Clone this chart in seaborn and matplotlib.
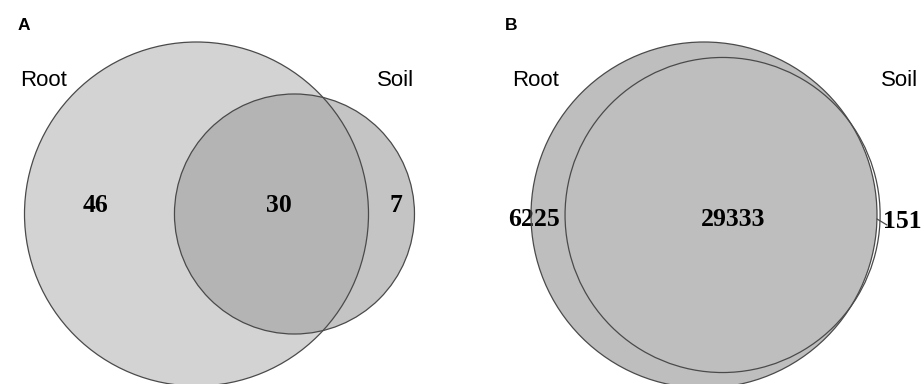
import numpy as np
import matplotlib
matplotlib.use("Agg")
import matplotlib.pyplot as plt
from matplotlib.patches import Circle
import seaborn as sns

# ---- data ----
panels = ["A", "B"]
set_names = ["Root", "Soil"]
root_only = [46, 6225]
shared = [30, 29333]
soil_only = [7, 151]

sns.set_theme(style="white")
plt.rcParams["font.family"] = ["Liberation Sans", "DejaVu Sans"]

fig = plt.figure(figsize=(9.21, 3.84), dpi=100)
ax = fig.add_axes([0, 0, 1, 1])
ax.set_xlim(0, 921)
ax.set_ylim(384, 0)
ax.axis("off")


def overlap_area(d, r1, r2):
    if d >= r1 + r2:
        return 0.0
    if d <= abs(r1 - r2):
        return np.pi * min(r1, r2) ** 2
    a1 = r1 ** 2 * np.arccos((d ** 2 + r1 ** 2 - r2 ** 2) / (2 * d * r1))
    a2 = r2 ** 2 * np.arccos((d ** 2 + r2 ** 2 - r1 ** 2) / (2 * d * r2))
    a3 = 0.5 * np.sqrt((-d + r1 + r2) * (d + r1 - r2) * (d - r1 + r2) * (d + r1 + r2))
    return a1 + a2 - a3


def solve_distance(r1, r2, target):
    lo, hi = abs(r1 - r2), r1 + r2
    for _ in range(200):
        mid = 0.5 * (lo + hi)
        if overlap_area(mid, r1, r2) > target:
            lo = mid
        else:
            hi = mid
    return 0.5 * (lo + hi)


# layout (pixels)
root_centers = [(196.5, 214.0), (704.0, 215.0)]
root_radius = [172.0, 173.0]
fills = [
    dict(root="#d3d3d3", soil="#c4c4c4", both="#b4b4b4"),
    dict(root="#bebebe", soil="#ffffff", both="#bebebe"),
]
edge = "#4a4a4a"

for i in range(2):
    tot_root = root_only[i] + shared[i]
    tot_soil = soil_only[i] + shared[i]
    r1 = root_radius[i]
    r2 = r1 * np.sqrt(tot_soil / tot_root)
    target = shared[i] / tot_root * np.pi * r1 ** 2
    d = solve_distance(r1, r2, target)
    cx, cy = root_centers[i]
    sx, sy = cx + d, cy
    f = fills[i]
    c_soil = Circle((sx, sy), r2, facecolor=f["soil"], edgecolor="none", zorder=1)
    ax.add_patch(c_soil)
    c_root = Circle((cx, cy), r1, facecolor=f["root"], edgecolor="none", zorder=2)
    ax.add_patch(c_root)
    c_both = Circle((sx, sy), r2, facecolor=f["both"], edgecolor="none", zorder=3)
    ax.add_patch(c_both)
    c_both.set_clip_path(c_root)
    ax.add_patch(Circle((cx, cy), r1, facecolor="none", edgecolor=edge, lw=0.9, zorder=4))
    ax.add_patch(Circle((sx, sy), r2, facecolor="none", edgecolor=edge, lw=0.9, zorder=4))

# panel letters and set names
letter_x = [18, 505]
for i in range(2):
    ax.text(letter_x[i], 25, panels[i], fontsize=12.5, fontweight="bold",
            ha="left", va="center", color="black")
name_pos = [[(44, 80), (396, 80)], [(536, 80), (900, 80)]]
for i in range(2):
    for j in range(2):
        x, y = name_pos[i][j]
        ax.text(x, y, set_names[j], fontsize=16, ha="center", va="center", color="black")

# counts
num_font = dict(family=["Liberation Serif", "DejaVu Serif"], fontweight="bold",
                fontsize=18.5, color="black", ha="center", va="center")
count_pos = [[(95, 206), (279, 206), (396, 206)], [(534, 220), (733, 220), (902, 222)]]
for i in range(2):
    vals = [root_only[i], shared[i], soil_only[i]]
    for j in range(3):
        x, y = count_pos[i][j]
        ax.text(x, y, str(vals[j]), **num_font)

# leader line for small region in B
ax.plot([877, 887], [219, 225], color=edge, lw=0.9, zorder=5)

fig.savefig("out.png", dpi=100)
